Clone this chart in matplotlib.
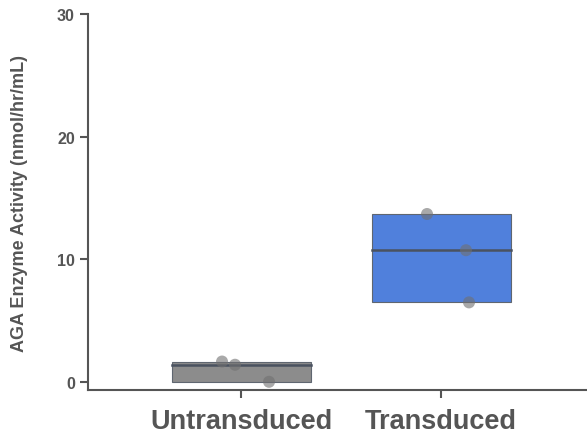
import matplotlib
matplotlib.use("Agg")
import matplotlib.pyplot as plt
from matplotlib.patches import Rectangle

plt.rcParams["font.family"] = ["Liberation Sans", "DejaVu Sans"]

groups = ["Untransduced", "Transduced"]
values = [
    [1.68, 1.42, 0.03],
    [13.7, 10.75, 6.5],
]
jitter = [
    [-0.095, -0.03, 0.14],
    [-0.07, 0.125, 0.14],
]
colors = ["#8c8c8c", "#5080dc"]
yticks = [0, 10, 20, 30]

fig = plt.figure(figsize=(5.87, 4.39), dpi=100)
ax = fig.add_axes([0.15, 0.109, 0.85, 0.857])

txt = "#555555"
box_w = 0.695
for i, (vals, c) in enumerate(zip(values, colors)):
    lo, hi = min(vals), max(vals)
    med = sorted(vals)[len(vals) // 2]
    ax.add_patch(Rectangle((i - box_w / 2, lo), box_w, hi - lo,
                           facecolor=c, edgecolor="#5f6670", linewidth=0.8, zorder=2))
    ax.plot([i - box_w / 2, i + box_w / 2], [med, med], color="#4a5260",
            linewidth=1.8, zorder=3)
    ax.scatter([i + j for j in jitter[i]], vals, s=75, color="#707070",
               alpha=0.6, edgecolors="none", zorder=4)

ax.set_xlim(-0.765, 1.73)
ax.set_ylim(-0.65, 30)
ax.set_xticks(range(len(groups)))
ax.set_xticklabels(groups, fontsize=19.5, fontweight="bold", color=txt)
ax.set_yticks(yticks)
ax.set_yticklabels([str(t) for t in yticks], fontsize=11.5, fontweight="bold", color=txt)
ax.spines["top"].set_visible(False)
ax.spines["right"].set_visible(False)
for s in ("left", "bottom"):
    ax.spines[s].set_color(txt)
    ax.spines[s].set_linewidth(1.5)
ax.tick_params(axis="both", color=txt, width=1.5, length=6)
ax.tick_params(axis="x", pad=7)
ax.set_ylabel("AGA Enzyme Activity (nmol/hr/mL)", fontsize=13,
              fontweight="bold", color=txt)
ax.yaxis.set_label_coords(-0.12, 0.5)

fig.savefig("out.png", dpi=100)
